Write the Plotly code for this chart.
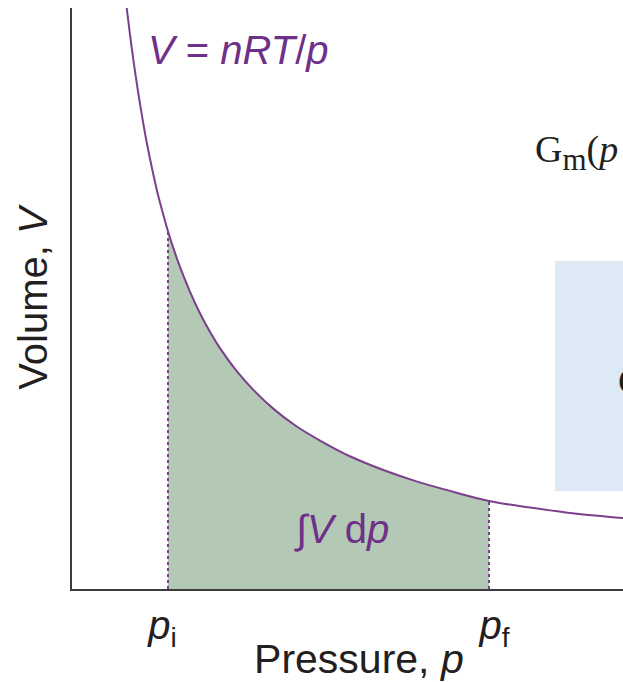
import plotly.graph_objects as go

# ---- data ----
pressure = [0.59, 0.62, 0.66, 0.70, 0.75, 0.80, 0.85, 0.90, 0.95, 1.00, 1.10,
            1.20, 1.30, 1.40, 1.50, 1.65, 1.80, 2.00, 2.20, 2.45, 2.70, 3.00,
            3.30, 3.60, 4.00, 4.40, 4.80, 5.30]
volume = [1.69, 1.61, 1.515, 1.43, 1.335, 1.25, 1.177, 1.11, 1.053, 1.00, 0.91,
          0.835, 0.77, 0.715, 0.667, 0.606, 0.556, 0.50, 0.455, 0.41, 0.371, 0.334,
          0.303, 0.277, 0.246, 0.227, 0.211, 0.197]
p_initial = 1.0
p_final = 4.0
tick_values = [p_initial, p_final]
tick_labels = ["<i>p</i><sub>i</sub>\u00a0\u200b", "\u200b\u00a0<i>p</i><sub>f</sub>"]

PURPLE = "#7b3f8c"
TEXT_PURPLE = "#6e3088"
GREEN = "#b3c9b5"
DARK = "#231f20"
AXIS = "#3c3c3c"

# shaded region subset
fill_p = [p for p in pressure if p_initial <= p <= p_final]
fill_v = [v for p, v in zip(pressure, volume) if p_initial <= p <= p_final]
v_at = dict(zip(pressure, volume))

fig = go.Figure()

fig.add_trace(go.Scatter(x=fill_p, y=fill_v, mode="lines", fill="tozeroy",
                         fillcolor=GREEN, line=dict(width=0, shape="spline"),
                         hoverinfo="skip", showlegend=False))

for pv in tick_values:
    fig.add_trace(go.Scatter(x=[pv, pv], y=[0, v_at[pv]], mode="lines",
                             line=dict(color=PURPLE, width=2, dash="3px,3px"),
                             showlegend=False, hoverinfo="skip"))

fig.add_trace(go.Scatter(x=pressure, y=volume, mode="lines",
                         line=dict(color=PURPLE, width=2, shape="spline"),
                         showlegend=False))

W, H = 623, 682
ML, MR, MT, MB = 72, 0, 8, 86
PW, PH = W - ML - MR, H - MT - MB


def px_x(x):
    return (x - ML) / PW


def px_y(y):
    return (H - MB - y) / PH


fig.add_shape(type="rect", xref="paper", yref="paper",
              x0=px_x(555), x1=px_x(700), y0=px_y(497), y1=px_y(264),
              fillcolor="#dde9f4", line=dict(width=0), layer="below")

fig.add_annotation(xref="paper", yref="paper", x=px_x(146), y=px_y(51),
                   xanchor="left", yanchor="middle", showarrow=False,
                   text="<i>V</i> = <i>nRT</i>/<i>p</i>",
                   font=dict(family="Liberation Sans", size=40, color=TEXT_PURPLE))
fig.add_annotation(xref="paper", yref="paper", x=px_x(341), y=px_y(536),
                   xanchor="center", yanchor="middle", showarrow=False,
                   text="\u222b<i>V</i> d<i>p</i>",
                   font=dict(family="Liberation Sans", size=40, color=TEXT_PURPLE))
fig.add_annotation(xref="paper", yref="paper", x=px_x(533), y=px_y(154),
                   xanchor="left", yanchor="middle", showarrow=False,
                   text="G<sub><span style=\"font-size:31px\">m</span></sub>(<i>p</i>",
                   font=dict(family="Liberation Serif", size=38, color=DARK))
fig.add_annotation(xref="paper", yref="paper", x=px_x(616), y=px_y(386),
                   xanchor="left", yanchor="middle", showarrow=False,
                   text="G",
                   font=dict(family="Liberation Serif", size=38, color=DARK))

fig.update_layout(
    width=W, height=H,
    margin=dict(l=ML, r=MR, t=MT, b=MB, pad=0),
    paper_bgcolor="white", plot_bgcolor="white",
    font=dict(family="Liberation Sans", color=DARK),
    xaxis=dict(range=[0.103, 5.252], showgrid=False, zeroline=False,
               showline=True, linecolor=AXIS, linewidth=2,
               tickvals=tick_values, ticktext=tick_labels, ticks="",
               tickfont=dict(size=40, color=DARK),
               title=dict(text="\u200b\u00a0\u00a0Pressure, <i>p</i>",
                          font=dict(size=41, color=DARK), standoff=0)),
    yaxis=dict(range=[0, 1.624], showgrid=False, zeroline=False,
               showline=True, linecolor=AXIS, linewidth=2,
               showticklabels=False, ticks="",
               title=dict(text="Volume, <i>V</i>", font=dict(size=40, color=DARK),
                          standoff=10)),
)

fig.write_html("out.html")
